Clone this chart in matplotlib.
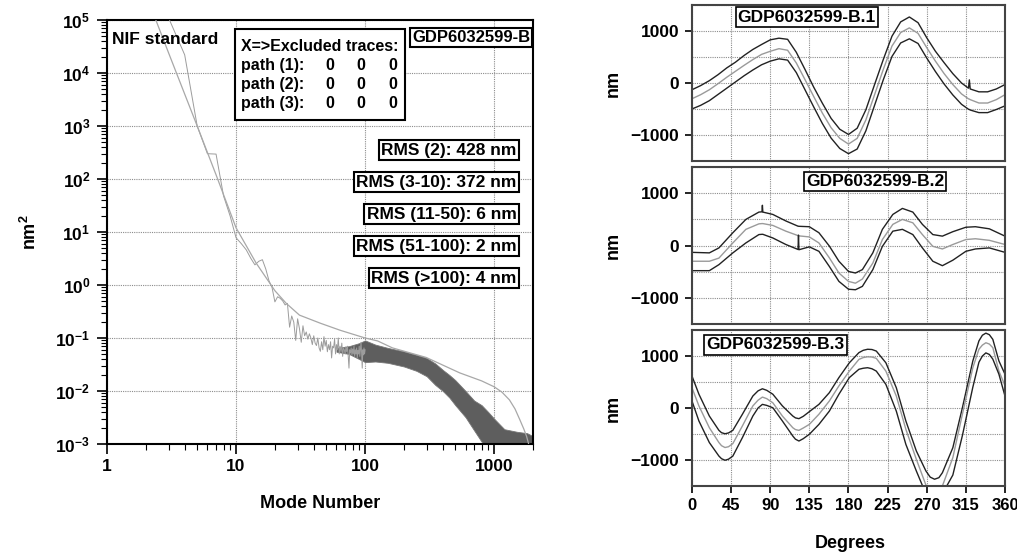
import matplotlib
matplotlib.use("Agg")
import matplotlib.pyplot as plt
from matplotlib.patches import Rectangle
from matplotlib.ticker import LogLocator, NullFormatter, FixedLocator
import numpy as np

plt.rcParams['font.family'] = ['Liberation Sans', 'DejaVu Sans']
plt.rcParams['font.weight'] = 'bold'
plt.rcParams['axes.labelweight'] = 'bold'
plt.rcParams['mathtext.fontset'] = 'custom'
plt.rcParams['mathtext.rm'] = 'Liberation Sans:bold'
plt.rcParams['mathtext.bf'] = 'Liberation Sans:bold'
plt.rcParams['mathtext.it'] = 'Liberation Sans:bold'
plt.rcParams['mathtext.default'] = 'rm'

# ---- power spectrum (left) ----
data_mode = np.arange(2, 101)
data_val = [2.0e5, 1.1e5, 2.2e4, 1.0e3, 300, 295, 48, 20, 7.8,
            6.0, 4.6, 3.2, 2.4, 2.8, 3.0, 2.0, 1.2, 0.9, 0.48,
            0.6, 0.56, 0.5, 0.42, 0.45, 0.16, 0.26, 0.2, 0.09, 0.23,
            0.15, 0.083, 0.17, 0.11, 0.13, 0.095, 0.12, 0.1, 0.075, 0.11,
            0.08, 0.072, 0.1, 0.065, 0.056, 0.085, 0.06, 0.106, 0.07, 0.09,
            0.055, 0.075, 0.06, 0.085, 0.042, 0.07, 0.065, 0.095, 0.05, 0.075,
            0.06, 0.1, 0.05, 0.07, 0.055, 0.08, 0.045, 0.065, 0.06, 0.05,
            0.068, 0.055, 0.07, 0.045, 0.027, 0.06, 0.052, 0.065, 0.048, 0.062,
            0.05, 0.07, 0.045, 0.06, 0.05, 0.065, 0.042, 0.058, 0.05, 0.07,
            0.045, 0.06, 0.083, 0.05, 0.027, 0.06, 0.048, 0.065, 0.05, 0.06]

# dense high-mode part of the measured spectrum, as upper / lower envelope
band_mode = [60, 75, 90, 100, 120, 150, 200, 250, 300, 350, 400, 450, 500, 600,
             700, 800, 900, 1000, 1200, 1500, 1800, 2000]
band_hi = [0.065, 0.07, 0.08, 0.09, 0.075, 0.065, 0.056, 0.048, 0.042, 0.033,
           0.025, 0.02, 0.016, 0.010, 0.0066, 0.0054, 0.004, 0.003, 0.0019,
           0.0017, 0.0016, 0.0014]
band_lo = [0.055, 0.05, 0.04, 0.035, 0.036, 0.034, 0.029, 0.024, 0.019, 0.013,
           0.010, 0.0075, 0.0054, 0.0032, 0.0018, 0.0011, 0.0008, 0.0006, 0.0005,
           0.0005, 0.0005, 0.0005]

nif_mode = [2.39, 3, 4, 5, 7, 10, 14.3, 20, 24.5, 31, 45, 64, 100, 125, 163,
            297, 540, 800, 1000, 1150, 1313, 1450, 1578, 1700, 1782, 1850, 1900]
nif_val = [1e5, 2.4e4, 4.0e3, 1.0e3, 120, 12, 2.6, 0.78, 0.45, 0.27, 0.19, 0.14,
           0.1, 0.088, 0.065, 0.043, 0.022, 0.0155, 0.012, 0.0095, 0.0068, 0.0046,
           0.0029, 0.0019, 0.0014, 0.001, 0.0006]

rms_labels = ["RMS (2): 428 nm", "RMS (3-10): 372 nm", "RMS (11-50): 6 nm",
              "RMS (51-100): 2 nm", "RMS (>100): 4 nm"]
excluded = [[0, 0, 0], [0, 0, 0], [0, 0, 0]]

# ---- traces (right) ----
p1_deg = [0, 10, 20, 30, 40, 50, 60, 70, 80, 90, 100, 110, 120, 130, 140, 150,
          160, 170, 180, 190, 200, 210, 220, 230, 240, 250, 260, 270, 280, 290,
          300, 310, 318, 319, 320, 330, 340, 350, 360]
p1_up = [-130, -50, 45, 160, 290, 400, 530, 645, 740, 830, 862, 840, 590, 260,
         -80, -390, -680, -890, -990, -870, -515, -30, 450, 900, 1175, 1270, 1160,
         870, 610, 390, 180, 0, -100, 60, -115, -170, -170, -115, -30]
p1_mid = [-303, -225, -130, -13, 110, 225, 340, 450, 550, 610, 660, 630, 385, 65,
          -260, -580, -860, -1065, -1175, -1065, -710, -225, 260, 710, 970, 1060,
          955, 680, 420, 180, -30, -210, -305, -310, -320, -385, -385, -320, -225]
p1_lo = [-500, -430, -340, -220, -100, 20, 140, 250, 350, 420, 465, 440, 200, -130,
         -460, -780, -1060, -1260, -1360, -1270, -920, -430, 60, 510, 770, 850, 760,
         480, 220, -20, -230, -410, -505, -510, -520, -570, -570, -510, -440]

p2_deg = [0, 20, 31, 47, 62, 77, 80.5, 81, 81.5, 93, 108, 122, 122.5, 123, 135,
          146, 158, 169, 180, 188, 196, 208, 219, 231, 242, 254, 265, 277, 288,
          300, 315, 326, 342, 360]
p2_up = [-130, -140, -45, 245, 500, 640, 645, 770, 640, 595, 470, 370, 370, 368,
         360, 245, -10, -300, -495, -525, -460, -140, 310, 595, 710, 640, 405, 210,
         180, 265, 350, 360, 320, 180]
p2_mid = [-300, -300, -240, 50, 310, 415, 420, 420, 420, 385, 275, 190, 188, 185,
          165, 50, -235, -525, -685, -720, -640, -335, 115, 405, 500, 435, 210, -15,
          -65, 20, 115, 130, 100, 20]
p2_lo = [-480, -480, -365, -140, 50, 210, 215, 215, 215, 145, 20, -75, 200, -80,
         -25, -110, -400, -685, -835, -845, -780, -460, -15, 275, 310, 210, -45, -300,
         -385, -280, -110, -65, -45, -130]

p3_deg = [0, 8, 20, 31, 34, 38, 42, 47, 58, 70, 76, 81, 86, 93, 104, 116, 119, 123,
          128, 135, 146, 158, 169, 181, 192, 197, 202, 207, 212, 223, 235, 246, 258,
          269, 274, 279, 284, 288, 300, 311, 323, 330, 334, 338, 342, 346, 353, 360]
p3_up = [615, 265, -155, -430, -475, -495, -480, -430, -120, 230, 330, 370, 340, 265,
         40, -155, -190, -205, -160, -70, 70, 295, 585, 870, 1065, 1110, 1130, 1125,
         1095, 870, 390, -250, -825, -1210, -1330, -1370, -1340, -1245, -765, 5, 905,
         1290, 1400, 1440, 1410, 1320, 905, 650]
p3_mid = [390, 40, -380, -665, -725, -760, -745, -685, -345, 40, 150, 210, 180, 100,
          -155, -380, -415, -430, -385, -315, -120, 135, 425, 710, 935, 970, 985, 980,
          955, 710, 230, -410, -985, -1480, -1580, -1620, -1580, -1500, -955, -120, 775,
          1130, 1210, 1255, 1230, 1160, 710, 430]
p3_lo = [135, -250, -665, -925, -975, -1005, -985, -925, -570, -155, 0, 70, 50, 5,
         -250, -540, -600, -635, -590, -505, -315, -60, 265, 585, 745, 765, 775, 755,
         710, 455, -60, -700, -1210, -1650, -1750, -1800, -1750, -1650, -1290, -530,
         400, 880, 1000, 1060, 1030, 940, 650, 230]

panels = [("GDP6032599-B.1", p1_deg, p1_up, p1_mid, p1_lo, (0.367, 0.923)),
          ("GDP6032599-B.2", p2_deg, p2_up, p2_mid, p2_lo, (0.585, 0.906)),
          ("GDP6032599-B.3", p3_deg, p3_up, p3_mid, p3_lo, (0.267, 0.904))]

fig = plt.figure(figsize=(10.17, 5.57), dpi=100)

# left plot
ax = fig.add_axes([0.1052, 0.2029, 0.4189, 0.7612])
ax.set_xscale('log')
ax.set_yscale('log')
ax.fill_between(band_mode, band_lo, band_hi, color='#5e5e5e', lw=0.6,
                edgecolor='#777777', zorder=2)
ax.plot(data_mode, data_val, color='#9c9c9c', lw=0.7, zorder=3)
ax.plot(nif_mode, nif_val, color='#a8a8a8', lw=0.9, zorder=3)
ax.set_xlim(1, 2000)
ax.set_ylim(1e-3, 1e5)
ax.set_xticks([1, 10, 100, 1000])
ax.set_xticklabels(['1', '10', '100', '1000'])
ax.xaxis.set_minor_locator(LogLocator(base=10, subs=np.arange(2, 10) * 1.0, numticks=100))
ax.xaxis.set_minor_formatter(NullFormatter())
yt = [10.0 ** k for k in range(-3, 6)]
ax.set_yticks(yt)
ax.set_yticklabels([r'$10^{%d}$' % k for k in range(-3, 6)])
ax.yaxis.set_minor_locator(LogLocator(base=10, subs=np.arange(2, 10) * 1.0, numticks=100))
ax.yaxis.set_minor_formatter(NullFormatter())
ax.tick_params(which='major', direction='out', length=7, width=1.2, pad=4)
ax.tick_params(which='minor', direction='out', length=4, width=0.8)
ax.tick_params(axis='x', labelsize=12.5)
ax.tick_params(axis='y', labelsize=12.5, pad=5)
ax.grid(which='major', ls=(0, (1, 1)), color='#8c8c8c', lw=0.8)
for s in ax.spines.values():
    s.set_linewidth(1.5)
ax.set_xlabel("Mode Number", fontsize=13)
ax.xaxis.set_label_coords(0.5, -0.12)
ax.set_ylabel("nm$^2$", fontsize=13)
ax.yaxis.set_label_coords(-0.158, 0.5)

ax.text(0.012, 0.953, "NIF standard", transform=ax.transAxes, fontsize=12.5,
        va='center', ha='left', zorder=6)
ax.add_patch(Rectangle((0.3016, 0.764), 0.3984, 0.215, transform=ax.transAxes,
                       fc='white', ec='black', lw=1.5, zorder=5))
ax.text(0.3146, 0.937, "X=>Excluded traces:", transform=ax.transAxes, fontsize=11.5,
        va='center', ha='left', zorder=6)
for i, row in enumerate(excluded):
    yy = 0.892 - i * 0.045
    ax.text(0.3146, yy, "path (%d):" % (i + 1), transform=ax.transAxes, fontsize=11.5,
            va='center', ha='left', zorder=6)
    for xx, v in zip([0.523, 0.596, 0.670], row):
        ax.text(xx, yy, str(v), transform=ax.transAxes, fontsize=11.5,
                va='center', ha='center', zorder=6)
ax.text(0.993, 0.958, "GDP6032599-B", transform=ax.transAxes, fontsize=12,
        va='center', ha='right', zorder=6,
        bbox=dict(boxstyle='square,pad=0.12', fc='white', ec='black', lw=1.5))
for i, lab in enumerate(rms_labels):
    ax.text(0.962, 0.693 - i * 0.0755, lab, transform=ax.transAxes, fontsize=12.5,
            va='center', ha='right', zorder=6,
            bbox=dict(boxstyle='square,pad=0.15', fc='white', ec='black', lw=1.5))

# right plots
pos = [[0.6804, 0.711, 0.3078, 0.280],
       [0.6804, 0.4183, 0.3078, 0.2817],
       [0.6804, 0.1275, 0.3078, 0.2800]]
for k, (title, deg, up, mid, lo, tpos) in enumerate(panels):
    a = fig.add_axes(pos[k])
    a.plot(deg, up, color='#222222', lw=1.0)
    a.plot(deg, mid, color='#9a9a9a', lw=1.0)
    a.plot(deg, lo, color='#222222', lw=1.0)
    a.set_xlim(0, 360)
    a.set_ylim(-1500, 1500)
    a.set_xticks(range(0, 361, 45))
    a.set_yticks([-1000, 0, 1000])
    a.set_yticklabels(['\u22121000', '0', '1000'])
    a.yaxis.set_minor_locator(FixedLocator([-1500, -500, 500, 1500]))
    a.grid(which='both', ls=(0, (1, 1)), color='#8c8c8c', lw=0.8)
    a.tick_params(axis='y', which='major', direction='out', length=5, width=1.2,
                  labelsize=12.5, pad=4)
    a.tick_params(axis='y', which='minor', length=0)
    if k < 2:
        a.tick_params(axis='x', length=0, labelbottom=False)
    else:
        a.tick_params(axis='x', direction='out', length=5, width=1.2,
                      labelsize=12, pad=4)
        a.set_xlabel("Degrees", fontsize=13)
        a.xaxis.set_label_coords(0.505, -0.314)
    for s in a.spines.values():
        s.set_linewidth(1.5)
        s.set_color('#444444')
    a.set_ylabel("nm", fontsize=13)
    a.yaxis.set_label_coords(-0.224, 0.5)
    a.text(tpos[0], tpos[1], title, transform=a.transAxes, fontsize=12.5,
           va='center', ha='center', zorder=6,
           bbox=dict(boxstyle='square,pad=0.12', fc='white', ec='black', lw=1.2))

fig.savefig("out.png", dpi=100)
